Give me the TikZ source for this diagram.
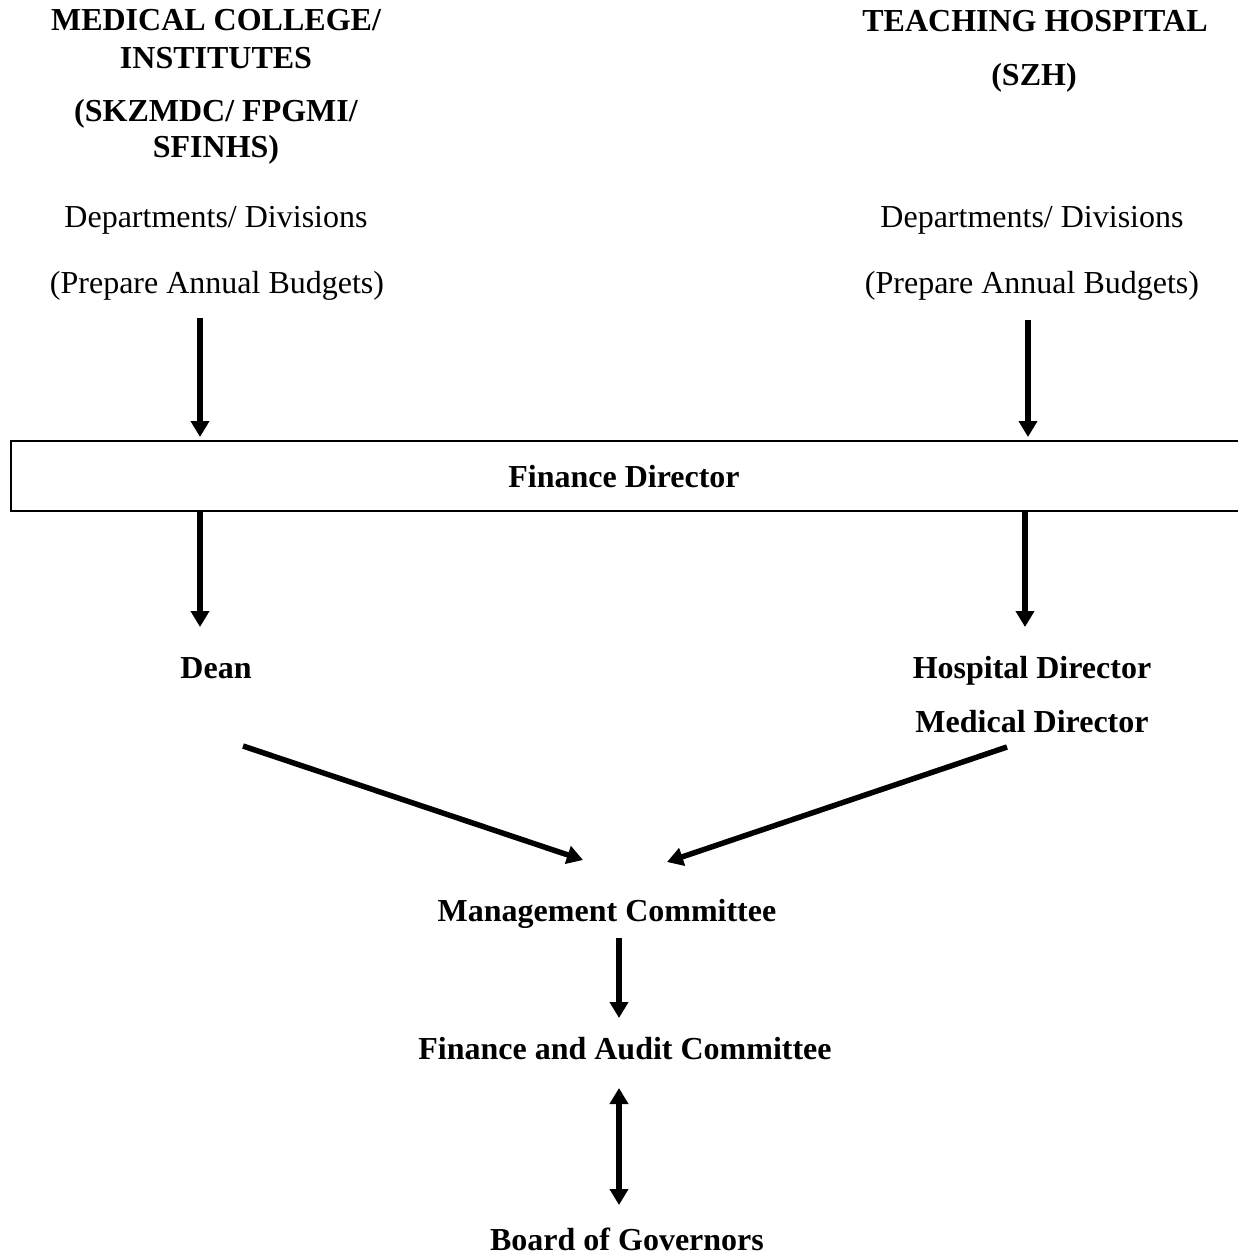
\documentclass[tikz,border=0pt]{standalone}
\usepackage{fontspec}
\setmainfont{Liberation Serif}
\usetikzlibrary{arrows.meta}
\begin{document}
\begin{tikzpicture}[x=1pt,y=-1pt,
  lbl/.style={anchor=base,inner sep=0pt,font=\fontsize{32}{38}\selectfont},
  blbl/.style={anchor=base,inner sep=0pt,font=\fontsize{32}{38}\selectfont\bfseries},
  arr/.style={line width=5.5pt,-{Triangle[width=18pt,length=16pt]}},
  darr/.style={line width=5.5pt,{Triangle[width=18pt,length=16pt]}-{Triangle[width=18pt,length=16pt]}},
  fdboxstyle/.style={draw,line width=2.6pt,minimum width=1239pt,minimum height=70pt,inner sep=0pt}]
\useasboundingbox (0,0) rectangle (1238,1255);
% left column
\node[blbl] (mc1) at (216,31) {MEDICAL COLLEGE/};
\node[blbl] (mc2) at (216,68) {INSTITUTES};
\node[blbl] (mc3) at (216,121) {(SKZMDC/ FPGMI/};
\node[blbl] (mc4) at (216,157) {SFINHS)};
\node[lbl] (ld1) at (216,227) {Departments/ Divisions};
\node[lbl] (ld2) at (217,293) {(Prepare Annual Budgets)};
% right column
\node[blbl] (th1) at (1035,32) {TEACHING HOSPITAL};
\node[blbl] (th2) at (1034,85) {(SZH)};
\node[lbl] (rd1) at (1032,227) {Departments/ Divisions};
\node[lbl] (rd2) at (1032,293) {(Prepare Annual Budgets)};
% finance director box
\node[fdboxstyle] (fdbox) at (630.5,476) {};
\node[blbl] (fd) at (624,487) {Finance Director};
% lower levels
\node[blbl] (dean) at (216,678) {Dean};
\node[blbl] (hd) at (1032,678) {Hospital Director};
\node[blbl] (md) at (1032,732) {Medical Director};
\node[blbl] (mgc) at (607,921) {Management Committee};
\node[blbl] (fac) at (625,1059) {Finance and Audit Committee};
\node[blbl] (bog) at (627,1250) {Board of Governors};
% connector end points
\coordinate (l1s) at (200,318);
\coordinate (l1e) at (200,437);
\coordinate (r1s) at (1028,320);
\coordinate (r1e) at (1028,437);
\coordinate (l2e) at (200,627);
\coordinate (r2e) at (1025,627);
\coordinate (dgs) at (243,746);
\coordinate (dge) at (583,860);
\coordinate (hgs) at (1007,747);
\coordinate (hge) at (667,862);
\coordinate (m1s) at (619,938);
\coordinate (m1e) at (619,1018);
\coordinate (b1s) at (619,1088);
\coordinate (b1e) at (619,1205);
% connectors
\draw[arr] (l1s) -- (l1e);
\draw[arr] (r1s) -- (r1e);
\draw[arr] (fdbox.south -| l2e) -- (l2e);
\draw[arr] (fdbox.south -| r2e) -- (r2e);
\draw[arr] (dgs) -- (dge);
\draw[arr] (hgs) -- (hge);
\draw[arr] (m1s) -- (m1e);
\draw[darr] (b1s) -- (b1e);
\end{tikzpicture}
\end{document}
